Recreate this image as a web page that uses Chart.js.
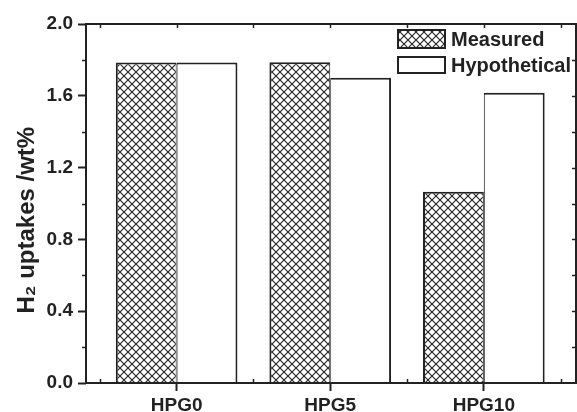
<!DOCTYPE html>
<html>
<head>
<meta charset="utf-8">
<script src="https://cdn.jsdelivr.net/npm/chart.js@4.4.1/dist/chart.umd.min.js"></script>
<style>
  html, body { margin: 0; padding: 0; background: #fff; }
</style>
</head>
<body>
<canvas id="uptakeChart" width="577" height="412"></canvas>
<script>
const samples = ["HPG0", "HPG5", "HPG10"]
const measured = [1.785, 1.787, 1.066]
const hypothetical = [1.785, 1.70, 1.617]
const yTicks = [0, 0.4, 0.8, 1.2, 1.6, 2.0]
const yMinor = [0.2, 0.6, 1.0, 1.4, 1.8]
const xMinor = [-0.5, 0.5, 1.5, 2.5]

const ink = '#222'
const fontFamily = "'Liberation Sans', Arial, sans-serif"

function makeHatch(ctx) {
    const c = document.createElement('canvas')
    c.width = 8
    c.height = 8
    const g = c.getContext('2d')
    g.fillStyle = '#fff'
    g.fillRect(0, 0, 8, 8)
    g.strokeStyle = '#222'
    g.lineWidth = 1.1
    g.beginPath()
    g.moveTo(-1, -1); g.lineTo(9, 9)
    g.moveTo(9, -1); g.lineTo(-1, 9)
    g.stroke()
    return ctx.createPattern(c, 'repeat')
}

const canvas = document.getElementById('uptakeChart')
const hatch = makeHatch(canvas.getContext('2d'))

const frameAndLegend = {
    id: 'frameAndLegend',
    afterDraw(chart) {
        const { ctx, chartArea: { left, right, top, bottom }, scales: { x, y } } = chart
        ctx.save()
        ctx.strokeStyle = ink
        ctx.lineWidth = 1.5
        ctx.beginPath()
        // minor ticks left (outward) and right (inward)
        yMinor.forEach(v => {
            const py = Math.round(y.getPixelForValue(v)) + 0.5
            ctx.moveTo(left - 4, py); ctx.lineTo(left, py)
        })
        yMinor.concat(yTicks.slice(1, -1)).forEach(v => {
            const py = Math.round(y.getPixelForValue(v)) + 0.5
            ctx.moveTo(right, py); ctx.lineTo(right - 4, py)
        })
        // top ticks inward, bottom minor inward
        xMinor.concat(samples.map((_, i) => i)).forEach(v => {
            const px = Math.round(x.getPixelForValue(v)) + 0.5
            ctx.moveTo(px, top); ctx.lineTo(px, top + 4)
        })
        xMinor.forEach(v => {
            const px = Math.round(x.getPixelForValue(v)) + 0.5
            ctx.moveTo(px, bottom); ctx.lineTo(px, bottom - 4)
        })
        ctx.stroke()
        // frame
        ctx.lineWidth = 2
        ctx.strokeRect(left, top, right - left, bottom - top)

        // legend
        const boxLeft = right - 178
        const rows = [
            { top: top + 6, h: 18 },
            { top: top + 33, h: 16 }
        ]
        ctx.font = "bold 20px " + fontFamily
        ctx.textBaseline = 'middle'
        ctx.textAlign = 'left'
        chart.data.datasets.forEach((ds, i) => {
            const r = rows[i]
            ctx.fillStyle = ds.backgroundColor
            ctx.fillRect(boxLeft, r.top, 47, r.h)
            ctx.lineWidth = 2
            ctx.strokeStyle = ink
            ctx.strokeRect(boxLeft, r.top, 47, r.h)
            ctx.fillStyle = ink
            ctx.fillText(ds.label, boxLeft + 53, r.top + r.h / 2 + 1)
        })
        ctx.restore()
    }
}

const tickFont = { family: fontFamily, size: 19, weight: 'bold' }

const config = {
    type: 'bar',
    data: {
        datasets: [
            {
                label: 'Measured',
                data: measured.map((v, i) => ({ x: i, y: v })),
                backgroundColor: hatch,
                borderColor: ink,
                borderWidth: { top: 2, left: 2, right: 1, bottom: 0 },
                borderSkipped: false
            },
            {
                label: 'Hypothetical',
                data: hypothetical.map((v, i) => ({ x: i, y: v })),
                backgroundColor: '#fff',
                borderColor: ink,
                borderWidth: { top: 2, left: 1, right: 2, bottom: 0 },
                borderSkipped: false
            }
        ]
    },
    options: {
        responsive: false,
        animation: false,
        categoryPercentage: 0.792,
        barPercentage: 1.0,
        layout: { padding: { top: 24, right: 1, left: 0, bottom: 0 } },
        plugins: {
            legend: { display: false },
            tooltip: { enabled: false }
        },
        scales: {
            x: {
                type: 'linear',
                min: -0.59,
                max: 2.6,
                offset: false,
                afterBuildTicks: s => { s.ticks = samples.map((_, i) => ({ value: i })) },
                ticks: {
                    callback: v => samples[v],
                    font: tickFont,
                    color: ink,
                    padding: 3,
                    maxRotation: 0,
                    autoSkip: false
                },
                grid: { drawOnChartArea: false, offset: false, tickLength: 8, tickColor: ink, tickWidth: 2 },
                border: { display: false },
                afterFit: s => { s.height = 29 }
            },
            y: {
                min: 0,
                max: 2,
                afterBuildTicks: s => { s.ticks = yTicks.map(v => ({ value: v })) },
                ticks: {
                    callback: v => v.toFixed(1),
                    font: tickFont,
                    color: ink,
                    padding: 5
                },
                grid: { drawOnChartArea: false, tickLength: 8, tickColor: ink, tickWidth: 2 },
                border: { display: false },
                title: {
                    display: true,
                    // trailing spaces nudge the centred title down like the original
                    text: 'H\u2082 uptakes /wt%\u00a0\u00a0\u00a0\u00a0\u00a0',
                    color: ink,
                    font: { family: fontFamily, size: 24, weight: 'bold' },
                    padding: { top: 13, bottom: 0 }
                },
                afterFit: s => { s.width = 86 }
            }
        }
    },
    plugins: [frameAndLegend]
}

new Chart(canvas, config)
</script>
</body>
</html>
